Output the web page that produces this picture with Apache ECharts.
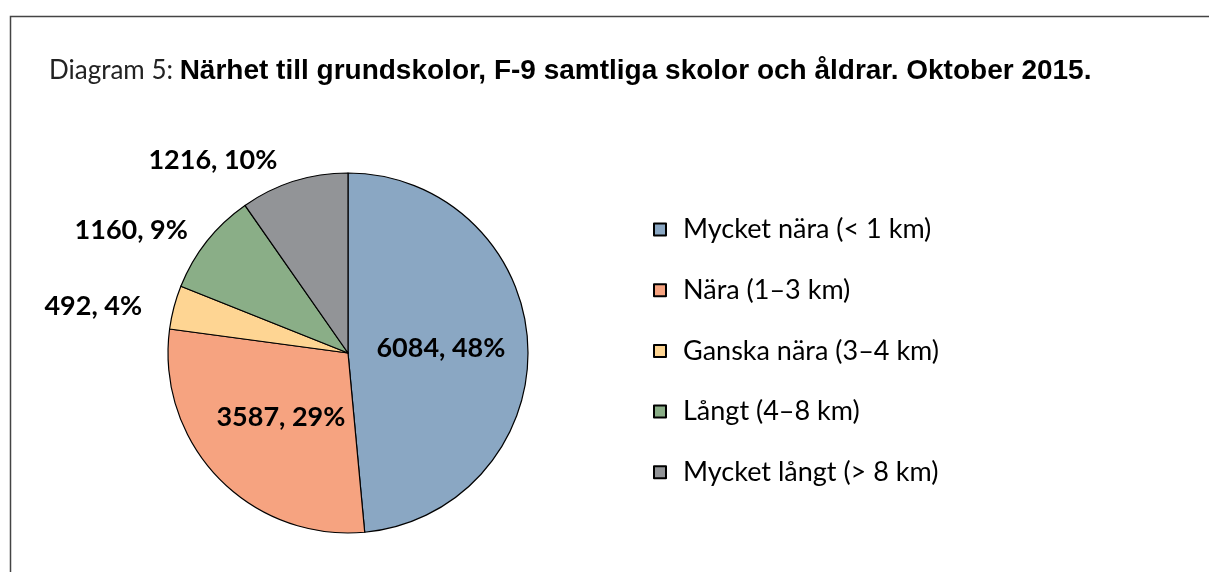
<!DOCTYPE html>
<html>
<head>
<meta charset="utf-8">
<script src="https://cdn.jsdelivr.net/npm/echarts@6/dist/echarts.min.js"></script>
<style>
  html, body { margin: 0; padding: 0; background: #fff; }
  #main { width: 1209px; height: 572px; }
</style>
</head>
<body>
<div id="main"></div>
<script>
    // data
    var categories = ['Mycket nära (< 1 km)', 'Nära (1–3 km)', 'Ganska nära (3–4 km)', 'Långt (4–8 km)', 'Mycket långt (> 8 km)'];
    var counts = [6084, 3587, 492, 1160, 1216];
    var percents = [48, 29, 4, 9, 10];
    var colors = ['#8aa7c3', '#f6a380', '#fed593', '#8aae87', '#929497'];
    var insideLabel = [true, true, false, false, false];
    /*外部标签的引导线长度（不显示，只用来定位）*/
    var lineLen = [0, 0, 5, 18, 22];
    var lineLen2 = [0, 0, 22, 0, 5];

    var myChart = echarts.init(document.getElementById('main'));

    var pieData = [];
    for (var i = 0; i < categories.length; i++) {
        pieData.push({
            name: categories[i],
            value: counts[i],
            pct: percents[i],
            itemStyle: { color: colors[i] },
            label: { position: insideLabel[i] ? 'inside' : 'outside' },
            labelLine: { show: false, length: lineLen[i], length2: lineLen2[i] }
        });
    }

    var option = {
        backgroundColor: '#fff',
        animation: false,
        title: {
            left: 44,
            top: 52,
            text: '{a|Diagram 5: }{b|Närhet till grundskolor, F-9 samtliga skolor och åldrar. Oktober 2015.}',
            textStyle: {
                rich: {
                    a: { fontFamily: 'Lato', fontSize: 26, fontWeight: 'normal', color: '#222' },
                    b: { fontFamily: 'Liberation Sans', fontSize: 28, fontWeight: 'bold', color: '#000' }
                }
            }
        },
        /*框线*/
        graphic: [{
            type: 'rect',
            shape: { x: 10.5, y: 16.5, width: 1400, height: 800 },
            style: { fill: 'none', stroke: '#444', lineWidth: 1.5 },
            silent: true
        }],
        legend: {
            orient: 'vertical',
            left: 648,
            top: 211,
            icon: 'rect',
            itemWidth: 12,
            itemHeight: 12,
            itemGap: 33.7,
            textStyle: { fontFamily: 'Lato', fontSize: 27, color: '#000', padding: [0, 0, 0, 12] },
            data: categories
        },
        series: [{
            type: 'pie',
            center: [348, 353],
            radius: 180,
            startAngle: 90,
            clockwise: true,
            avoidLabelOverlap: false,
            itemStyle: { borderColor: '#000', borderWidth: 1.2 },
            emphasis: { disabled: true },
            label: {
                formatter: function (p) { return p.data.value + ', ' + p.data.pct + '%'; },
                fontFamily: 'Lato',
                fontWeight: 'bold',
                fontSize: 27,
                color: '#000'
            },
            data: pieData
        }]
    };
    myChart.setOption(option);
</script>
</body>
</html>
